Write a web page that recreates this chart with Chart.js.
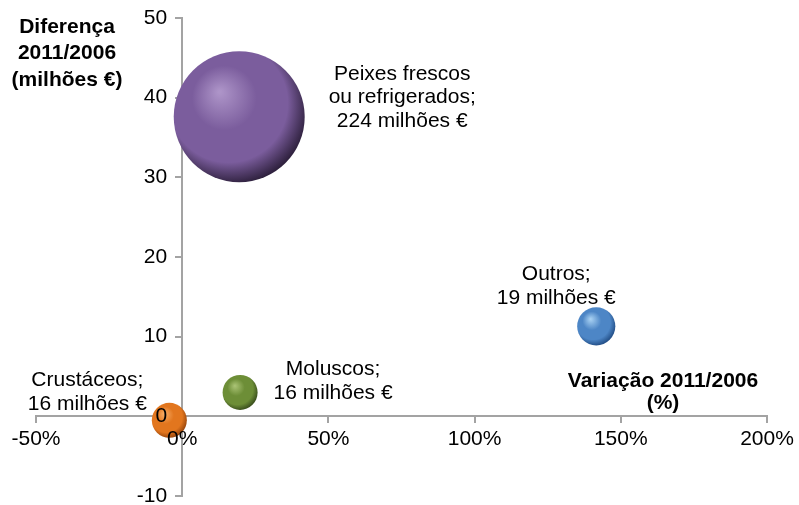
<!DOCTYPE html>
<html>
<head>
<meta charset="utf-8">
<script src="https://cdn.jsdelivr.net/npm/chart.js@4/dist/chart.umd.min.js"></script>
<style>
  body { margin: 0; background: #fff; }
  #wrap { width: 799px; height: 505px; position: relative; }
</style>
</head>
<body>
<div id="wrap"><canvas id="chart"></canvas></div>
<script>
// Data
const categories = ['Peixes frescos ou refrigerados', 'Moluscos', 'Crustáceos', 'Outros'];
const variation = [19.5, 19.8, -4.4, 141.6];      // Variação 2011/2006 (%)
const difference = [37.6, 3.0, -0.5, 11.3];      // Diferença 2011/2006 (milhões €)
const totals = [224, 16, 16, 19];                 // milhões €
const labelLines = [
    ['Peixes frescos', 'ou refrigerados;', '224 milhões €'],
    ['Moluscos;', '16 milhões €'],
    ['Crustáceos;', '16 milhões €'],
    ['Outros;', '19 milhões €']
];
const xTicks = [-50, 0, 50, 100, 150, 200];
const yTicks = [-10, 0, 10, 20, 30, 40, 50];

// Styles
const sphereColors = [
    { light: '#ad94c8', base: '#7b5d9d', dark: '#2a1d38' },
    { light: '#a9c274', base: '#6d8e37', dark: '#35491a' },
    { light: '#f7ac64', base: '#e2761e', dark: '#93420a' },
    { light: '#a7d0f2', base: '#4d86c6', dark: '#1f4a82' }
];
// label anchor offsets from bubble centre (px), first line y
const labelOffsets = [[163, -43], [93, -23], [-82, -40], [-40, -52]];
const axisColor = '#a3a3a3';
const font = 'Liberation Sans, Arial, sans-serif';

function radiusFor(v) {
    return 17.5 * Math.sqrt(v / 16);
}

function sphereFill(ctx) {
    const i = ctx.dataIndex;
    const c = sphereColors[i];
    if (ctx.type !== 'data' || !ctx.chart.chartArea) return c.base;
    const chart = ctx.chart;
    const px = chart.scales.x.getPixelForValue(variation[i]);
    const py = chart.scales.y.getPixelForValue(difference[i]);
    const r = radiusFor(totals[i]);
    const g = chart.ctx.createRadialGradient(px - 0.3 * r, py - 0.38 * r, 0.02 * r,
                                             px - 0.12 * r, py - 0.15 * r, 1.2 * r);
    g.addColorStop(0, c.light);
    g.addColorStop(0.4, c.base);
    g.addColorStop(0.75, c.base);
    g.addColorStop(1, c.dark);
    return g;
}

// tick labels, bubble labels and axis titles (drawn above the bubbles)
const textPlugin = {
    id: 'texts',
    afterDraw(chart) {
        const ctx = chart.ctx;
        const xs = chart.scales.x, ys = chart.scales.y;
        const ax = xs.getPixelForValue(0);
        const ay = ys.getPixelForValue(0);
        ctx.save();
        ctx.fillStyle = '#000';
        ctx.textBaseline = 'middle';
        ctx.font = '21px ' + font;
        ctx.textAlign = 'right';
        yTicks.forEach(v => ctx.fillText(String(v), ax - 15, ys.getPixelForValue(v)));
        ctx.textAlign = 'center';
        xTicks.forEach(v => ctx.fillText(v + '%', xs.getPixelForValue(v), ay + 23));
        labelLines.forEach((lines, i) => {
            const px = xs.getPixelForValue(variation[i]) + labelOffsets[i][0];
            const py = ys.getPixelForValue(difference[i]) + labelOffsets[i][1];
            lines.forEach((t, k) => ctx.fillText(t, px, py + k * 23.5));
        });
        ctx.font = 'bold 21px ' + font;
        ['Diferença', '2011/2006', '(milhões €)'].forEach((t, k) => ctx.fillText(t, 67, 27 + k * 26.5));
        ['Variação 2011/2006', '(%)'].forEach((t, k) => ctx.fillText(t, 663, 381 + k * 22.5));
        ctx.restore();
    }
};

new Chart(document.getElementById('chart'), {
    type: 'bubble',
    data: {
        labels: categories,
        datasets: [{
            data: categories.map((c, i) => ({ x: variation[i], y: difference[i], r: radiusFor(totals[i]) })),
            backgroundColor: sphereFill,
            borderWidth: 0,
            hoverBorderWidth: 0,
            clip: false
        }]
    },
    options: {
        responsive: true,
        maintainAspectRatio: false,
        animation: false,
        layout: { autoPadding: false, padding: { left: 36, right: 32, top: 18, bottom: 9 } },
        plugins: { legend: { display: false }, tooltip: { enabled: false } },
        scales: {
            x: {
                type: 'linear',
                position: { y: 0 },
                min: -50, max: 200,
                afterFit: s => { s.height = 0; },
                afterBuildTicks: s => { s.ticks = xTicks.map(v => ({ value: v })); },
                ticks: { display: false },
                grid: { drawOnChartArea: false, tickLength: 6, color: axisColor, lineWidth: 2 },
                border: { color: axisColor, width: 2 }
            },
            y: {
                type: 'linear',
                position: { x: 0 },
                min: -10, max: 50,
                afterFit: s => { s.width = 0; },
                afterBuildTicks: s => { s.ticks = yTicks.map(v => ({ value: v })); },
                ticks: { display: false },
                grid: { drawOnChartArea: false, tickLength: 6, color: axisColor, lineWidth: 2 },
                border: { color: axisColor, width: 2 }
            }
        }
    },
    plugins: [textPlugin]
});
</script>
</body>
</html>
